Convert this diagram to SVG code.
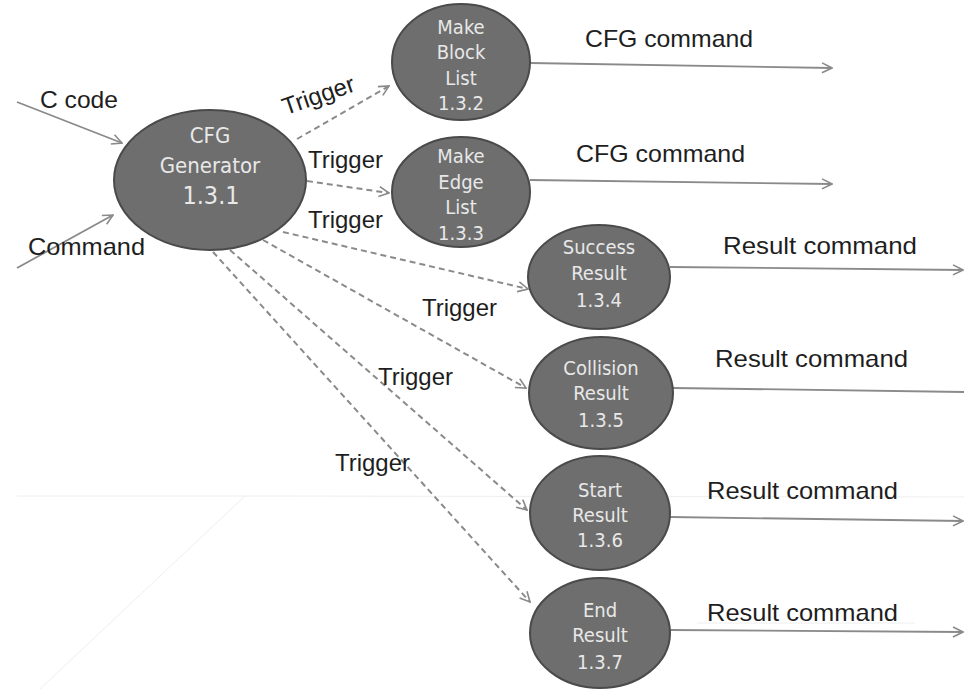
<svg xmlns="http://www.w3.org/2000/svg" width="964" height="689" viewBox="0 0 964 689">
<style>
.node ellipse{fill:#6e6e6e;stroke:#4a4a4a;stroke-width:2}
.nt{font-family:"DejaVu Sans Condensed","Liberation Sans Narrow","Liberation Sans",sans-serif;fill:#e8e8e8;font-size:20px;text-anchor:middle}
.lbl{font-family:"Liberation Sans",Arial,sans-serif;fill:#1e1e1e;font-size:24px}
.solid{stroke:#8a8a8a;stroke-width:1.8;fill:none}
.dash{stroke:#8a8a8a;stroke-width:2;fill:none;stroke-dasharray:6 4}
.faint{stroke:#eeeeee;stroke-width:1;fill:none}
</style>
<defs>
<marker id="arr" viewBox="0 0 12 12" refX="11" refY="6" markerWidth="12" markerHeight="12" markerUnits="userSpaceOnUse" orient="auto">
<path d="M1,1 L11,6 L1,11" fill="none" stroke="#8a8a8a" stroke-width="1.6"/>
</marker>
</defs>
<rect width="964" height="689" fill="#ffffff"/>
<g id="background-lines">
<line class="faint" x1="17" y1="496" x2="245" y2="496" stroke="#f6e4e4"/>
<line class="faint" x1="245" y1="496" x2="964" y2="497"/>
<line class="faint" x1="245" y1="496" x2="40" y2="689"/>
<line class="faint" x1="697" y1="623" x2="915" y2="623"/>
</g>
<g id="connectors">
<line class="solid" x1="17" y1="102" x2="122" y2="143" marker-end="url(#arr)"/>
<line class="solid" x1="17" y1="268" x2="113" y2="215" marker-end="url(#arr)"/>
<line class="dash" x1="297" y1="139" x2="389" y2="86" marker-end="url(#arr)"/>
<line class="dash" x1="307" y1="181" x2="389" y2="193" marker-end="url(#arr)"/>
<line class="dash" x1="283" y1="232" x2="528" y2="289" marker-end="url(#arr)"/>
<line class="dash" x1="263" y1="240" x2="526" y2="388" marker-end="url(#arr)"/>
<line class="dash" x1="230" y1="250" x2="527" y2="510" marker-end="url(#arr)"/>
<line class="dash" x1="213" y1="252" x2="530" y2="602" marker-end="url(#arr)"/>
<line class="solid" x1="530" y1="63" x2="832" y2="68" marker-end="url(#arr)"/>
<line class="solid" x1="530" y1="180" x2="832" y2="184" marker-end="url(#arr)"/>
<line class="solid" x1="670" y1="267" x2="963" y2="270" marker-end="url(#arr)"/>
<line class="solid" x1="673" y1="388" x2="964" y2="392"/>
<line class="solid" x1="670" y1="517" x2="963" y2="521" marker-end="url(#arr)"/>
<line class="solid" x1="670" y1="630" x2="963" y2="632" marker-end="url(#arr)"/>
</g>
<g id="labels">
<text class="lbl" x="40" y="108" textLength="78" lengthAdjust="spacingAndGlyphs">C code</text>
<text class="lbl" x="28" y="255" textLength="117" lengthAdjust="spacingAndGlyphs">Command</text>
<text class="lbl" x="0" y="0" text-anchor="middle" transform="translate(321,103) rotate(-19)">Trigger</text>
<text class="lbl" x="308" y="168" textLength="75" lengthAdjust="spacingAndGlyphs">Trigger</text>
<text class="lbl" x="308" y="228" textLength="75" lengthAdjust="spacingAndGlyphs">Trigger</text>
<text class="lbl" x="422" y="316" textLength="75" lengthAdjust="spacingAndGlyphs">Trigger</text>
<text class="lbl" x="378" y="385" textLength="75" lengthAdjust="spacingAndGlyphs">Trigger</text>
<text class="lbl" x="335" y="471" textLength="75" lengthAdjust="spacingAndGlyphs">Trigger</text>
<text class="lbl" x="585" y="47" textLength="168" lengthAdjust="spacingAndGlyphs">CFG command</text>
<text class="lbl" x="576" y="162" textLength="169" lengthAdjust="spacingAndGlyphs">CFG command</text>
<text class="lbl" x="723" y="254" textLength="194" lengthAdjust="spacingAndGlyphs">Result command</text>
<text class="lbl" x="715" y="367" textLength="193" lengthAdjust="spacingAndGlyphs">Result command</text>
<text class="lbl" x="707" y="499" textLength="191" lengthAdjust="spacingAndGlyphs">Result command</text>
<text class="lbl" x="707" y="621" textLength="191" lengthAdjust="spacingAndGlyphs">Result command</text>
</g>
<g id="node-1.3.1" class="node">
<ellipse cx="210" cy="180" rx="96" ry="70"/>
<text class="nt" x="210" y="143" style="font-size:22px">CFG</text>
<text class="nt" x="210" y="173" style="font-size:22px">Generator</text>
<text class="nt" x="211" y="204" style="font-size:25px">1.3.1</text>
</g>
<g id="node-1.3.2" class="node">
<ellipse cx="461" cy="62" rx="69" ry="58"/>
<text class="nt" x="461" y="34">Make</text>
<text class="nt" x="461" y="59">Block</text>
<text class="nt" x="461" y="85">List</text>
<text class="nt" x="461" y="110">1.3.2</text>
</g>
<g id="node-1.3.3" class="node">
<ellipse cx="461" cy="192" rx="69" ry="55"/>
<text class="nt" x="461" y="163">Make</text>
<text class="nt" x="461" y="189">Edge</text>
<text class="nt" x="461" y="214">List</text>
<text class="nt" x="461" y="240">1.3.3</text>
</g>
<g id="node-1.3.4" class="node">
<ellipse cx="599" cy="277" rx="71" ry="52"/>
<text class="nt" x="599" y="254">Success</text>
<text class="nt" x="599" y="280">Result</text>
<text class="nt" x="599" y="307">1.3.4</text>
</g>
<g id="node-1.3.5" class="node">
<ellipse cx="601" cy="393" rx="72" ry="56"/>
<text class="nt" x="601" y="375">Collision</text>
<text class="nt" x="601" y="400">Result</text>
<text class="nt" x="601" y="427">1.3.5</text>
</g>
<g id="node-1.3.6" class="node">
<ellipse cx="600" cy="513" rx="70" ry="57"/>
<text class="nt" x="600" y="497">Start</text>
<text class="nt" x="600" y="522">Result</text>
<text class="nt" x="600" y="547">1.3.6</text>
</g>
<g id="node-1.3.7" class="node">
<ellipse cx="600" cy="633" rx="70" ry="55"/>
<text class="nt" x="600" y="617">End</text>
<text class="nt" x="600" y="642">Result</text>
<text class="nt" x="600" y="669">1.3.7</text>
</g>
</svg>
